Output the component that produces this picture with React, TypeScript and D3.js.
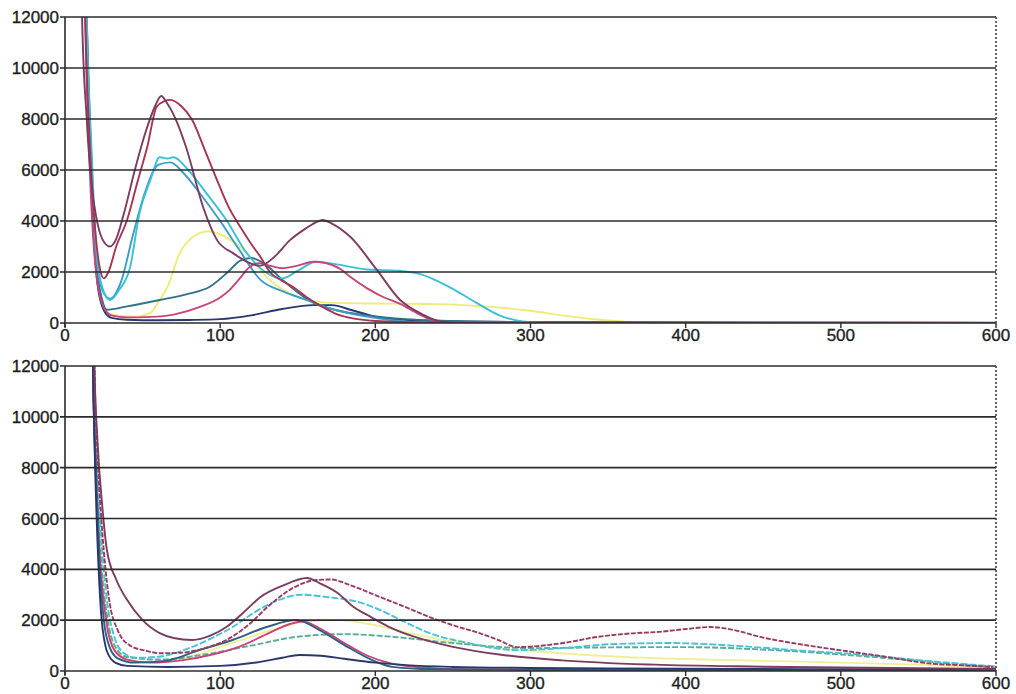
import React from "react";
import * as d3 from "d3";

const yTicks = [0, 2000, 4000, 6000, 8000, 10000, 12000];
const xTicks = [0, 100, 200, 300, 400, 500, 600];

// ---------- top panel series ----------
const topNavy: [number, number][] = [[8,30000],[12,16000],[15,9000],[18,4000],[21,1500],[25,500],[30,200],[40,130],[60,110],[80,120],[100,150],[120,300],[140,550],[160,700],[172,700],[185,500],[200,250],[220,120],[250,70],[300,40],[400,20],[600,10]];
const topTeal: [number, number][] = [[10,25000],[14,12000],[17,6000],[20,2500],[24,900],[27,520],[40,650],[61,900],[80,1150],[93,1410],[105,2000],[113,2450],[120,2550],[128,2350],[140,1700],[150,1200],[160,800],[175,500],[195,300],[220,150],[260,60],[330,20],[600,5]];
const topCyan: [number, number][] = [[11,30000],[14,12000],[17,7000],[20,3000],[24,1400],[29,900],[35,1300],[42,2200],[48,4300],[55,5600],[61,6500],[66,6450],[70,6500],[78,6100],[91,5100],[104,4040],[117,2750],[130,1960],[140,1750],[150,2050],[162,2400],[175,2300],[195,2100],[215,2050],[230,1900],[248,1400],[265,800],[280,300],[295,60],[310,0],[600,0]];
const topBlue: [number, number][] = [[11,30000],[14,12000],[17,6500],[20,2800],[24,1300],[29,950],[36,1600],[44,3500],[52,5200],[60,6200],[68,6300],[76,5900],[88,5000],[100,4000],[112,2900],[126,1690],[140,1250],[156,900],[172,550],[190,300],[210,120],[230,30],[600,0]];
const topYellow: [number, number][] = [[12,30000],[14,12000],[16,7000],[19,3000],[23,900],[30,320],[45,250],[55,400],[61,900],[66,1410],[74,2750],[82,3350],[92,3600],[98,3530],[108,3200],[117,2750],[130,1800],[145,1150],[160,850],[180,780],[210,760],[240,740],[270,650],[300,480],[320,300],[350,100],[380,0],[600,0]];
const topMaroon: [number, number][] = [[8,30000],[11,12000],[14,8000],[17,5500],[20,4200],[24,3300],[29,3000],[33,3300],[38,4300],[45,6000],[52,7500],[58,8500],[62,8900],[66,8600],[72,7900],[78,6900],[89,4550],[98,3250],[108,2750],[126,2250],[135,2600],[145,3250],[155,3700],[162,3960],[166,4040],[172,3900],[184,3370],[201,2080],[216,900],[230,350],[242,60],[260,0],[600,0]];
const topCrimson: [number, number][] = [[9,30000],[13,12000],[16,7000],[19,4000],[22,2300],[25,1750],[28,2000],[33,3000],[40,4040],[47,5600],[53,6900],[59,8470],[64,8700],[68,8750],[75,8500],[82,7960],[90,6800],[98,5600],[105,4600],[113,3760],[120,3100],[126,2590],[132,2000],[140,1650],[147,1410],[156,1000],[166,630],[175,350],[184,200],[200,80],[230,20],[600,0]];
const topPink: [number, number][] = [[9,30000],[13,12000],[16,6000],[20,2000],[25,600],[30,300],[40,220],[55,240],[70,330],[87,630],[100,1000],[106,1290],[112,1700],[119,2200],[125,2350],[132,2250],[140,2150],[150,2250],[160,2400],[168,2350],[178,2100],[184,1800],[195,1350],[205,1020],[216,750],[228,350],[240,60],[260,0],[600,0]];

// ---------- bottom panel series ----------
const botNavy: [number, number][] = [[15,30000],[18,12000],[19,9000],[21,5000],[23,2500],[26,1000],[30,450],[33,310],[40,200],[66,160],[100,200],[125,350],[140,520],[151,630],[165,600],[180,480],[200,330],[220,230],[250,160],[300,120],[400,90],[500,70],[600,50]];
const botTeal: [number, number][] = [[16,30000],[18,12000],[20,8000],[22,4500],[25,2000],[29,900],[34,500],[45,330],[65,400],[87,830],[108,1220],[130,1730],[149,2000],[164,1610],[182,950],[198,430],[211,160],[230,80],[300,40],[600,20]];
const botPink: [number, number][] = [[16,30000],[18,12000],[20,7500],[23,4000],[27,1800],[32,800],[40,450],[55,330],[75,420],[95,650],[112,950],[130,1450],[145,1850],[153,1950],[165,1650],[180,1100],[195,600],[210,300],[230,140],[260,60],[600,20]];
const botYellow: [number, number][] = [[16,30000],[18,12000],[21,7500],[24,4000],[28,1800],[33,800],[42,400],[60,350],[85,650],[110,1150],[135,1650],[155,1950],[175,2000],[200,1800],[225,1450],[250,1150],[280,900],[320,700],[360,550],[400,470],[450,400],[500,330],[550,250],[600,150]];
const botCyan: [number, number][] = [[16,30000],[18,12000],[20,8500],[23,5500],[27,2800],[32,1300],[38,700],[46,520],[60,560],[80,900],[98,1400],[108,1730],[122,2300],[138,2800],[152,3000],[170,2900],[190,2700],[203,2400],[220,1900],[235,1490],[260,1100],[291,820],[321,900],[350,1050],[390,1100],[430,1000],[470,820],[512,650],[555,400],[600,180]];
const botGreen: [number, number][] = [[16,30000],[18,12000],[20,8000],[23,4500],[27,2200],[32,1000],[40,550],[60,450],[90,650],[120,1000],[150,1350],[180,1450],[210,1350],[250,1100],[300,900],[350,930],[398,940],[454,830],[500,650],[550,400],[600,120]];
const botMaroon: [number, number][] = [[17,30000],[19,12000],[21,9000],[24,6500],[27,4760],[33,3600],[40,2800],[50,2000],[61,1490],[70,1300],[82,1220],[94,1400],[104,1730],[115,2300],[126,2910],[140,3350],[156,3660],[164,3460],[175,3100],[186,2520],[197,2130],[209,1730],[225,1350],[250,950],[280,650],[320,420],[380,250],[450,170],[600,80]];
const botRed: [number, number][] = [[17,30000],[19,12000],[21,8500],[24,5500],[28,3000],[34,1600],[42,1000],[52,800],[61,700],[75,720],[90,900],[104,1220],[118,1800],[132,2600],[148,3300],[162,3580],[171,3600],[185,3350],[203,2910],[220,2500],[235,2120],[250,1800],[267,1490],[280,1200],[291,940],[321,1100],[343,1340],[365,1480],[383,1540],[400,1650],[416,1730],[432,1600],[448,1340],[469,1100],[490,900],[512,710],[535,500],[555,310],[580,220],[598,160]];

type Series = { data: [number, number][]; color: string; width?: number; dash?: string };

const topSeries: Series[] = [
  { data: topYellow, color: "#f0ea78" },
  { data: topNavy, color: "#2a3870" },
  { data: topTeal, color: "#2f7388" },
  { data: topBlue, color: "#3a9cc8" },
  { data: topCyan, color: "#3cc0d6" },
  { data: topPink, color: "#c8447a" },
  { data: topCrimson, color: "#a63552" },
  { data: topMaroon, color: "#7c3c62" },
];

const botSeries: Series[] = [
  { data: botYellow, color: "#f2ee96" },
  { data: botGreen, color: "#5aae96", dash: "6,2" },
  { data: botCyan, color: "#48c2da", dash: "7,2" },
  { data: botPink, color: "#c8447a" },
  { data: botTeal, color: "#2f5f86" },
  { data: botNavy, color: "#2a3870" },
  { data: botRed, color: "#9a3c62", dash: "5,1.5" },
  { data: botMaroon, color: "#7c3c5e" },
];

const xLeft = 65;
const xRight = 996;

function Panel({ id, top, bottom, series, labelY }: { id: string; top: number; bottom: number; series: Series[]; labelY: number }) {
  const x = d3.scaleLinear().domain([0, 600]).range([xLeft, xRight]);
  const y = d3.scaleLinear().domain([0, 12000]).range([bottom, top]);
  const line = d3
    .line<[number, number]>()
    .x((d) => x(d[0]))
    .y((d) => y(d[1]))
    .curve(d3.curveMonotoneX);
  const font = "'Liberation Sans', Arial, sans-serif";
  return (
    <g>
      <defs>
        <clipPath id={id}>
          <rect x={xLeft} y={top} width={xRight - xLeft} height={bottom - top} />
        </clipPath>
      </defs>
      <g clipPath={`url(#${id})`}>
        {series.map((s, i) => (
          <path
            key={i}
            d={line(s.data) || ""}
            fill="none"
            stroke={s.color}
            strokeWidth={s.width ?? 1.9}
            strokeDasharray={s.dash}
            strokeLinejoin="round"
          />
        ))}
      </g>
      {yTicks.map((t) => (
        <g key={t}>
          <line x1={xLeft - 5} x2={xRight} y1={y(t)} y2={y(t)} stroke="#2b2b2b" strokeWidth={1.6} />
          <text
            x={xLeft - 6}
            y={y(t)}
            dy="0.36em"
            textAnchor="end"
            fontFamily={font}
            fontSize={17}
            fill="#1e1e1e"
            stroke="#1e1e1e"
            strokeWidth={0.35}
          >
            {t}
          </text>
        </g>
      ))}
      {xTicks.map((t) => (
        <g key={t}>
          <line x1={x(t)} x2={x(t)} y1={bottom} y2={bottom + 5} stroke="#2b2b2b" strokeWidth={1.4} />
          <text
            x={x(t)}
            y={labelY}
            textAnchor="middle"
            fontFamily={font}
            fontSize={17}
            fill="#1e1e1e"
            stroke="#1e1e1e"
            strokeWidth={0.35}
          >
            {t}
          </text>
        </g>
      ))}
      <line x1={xLeft} x2={xLeft} y1={top} y2={bottom + 4} stroke="#2b2b2b" strokeWidth={1.6} />
      <line x1={xRight} x2={xRight} y1={top} y2={bottom} stroke="#333" strokeWidth={1.5} strokeDasharray="2,2" />
    </g>
  );
}

export default function App() {
  return (
    <svg
      width={1016}
      height={694}
      style={{ position: "absolute", left: 0, top: 0, background: "#fff" }}
    >
      <rect x={0} y={0} width={1016} height={694} fill="#fff" />
      <Panel id="clipTop" top={17} bottom={323} series={topSeries} labelY={341} />
      <Panel id="clipBot" top={366} bottom={671} series={botSeries} labelY={689} />
    </svg>
  );
}
